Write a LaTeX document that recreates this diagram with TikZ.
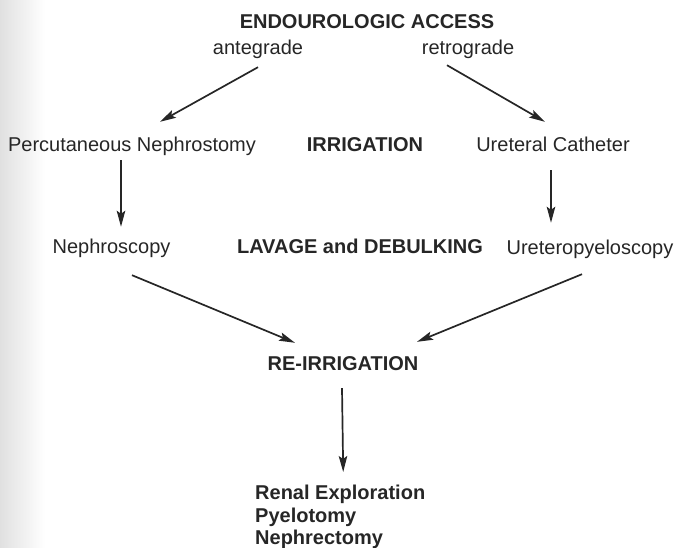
\documentclass[tikz,border=0pt]{standalone}
\usepackage{fontspec}
\setmainfont{Liberation Sans}
\usetikzlibrary{arrows.meta}
\definecolor{inkgray}{RGB}{38,38,38}

\begin{document}
\begin{tikzpicture}[
  x=1pt, y=-1pt,
  every node/.style={font=\fontsize{20}{22.5}\selectfont, text=inkgray, inner sep=0pt},
  plain/.style={text height=14pt, text depth=4pt},
  head/.style={plain, font=\fontsize{20}{22.5}\selectfont\bfseries},
  arr/.style={-{Stealth[length=16pt, width=8.5pt, inset=3pt]}, line width=1.7pt, draw=inkgray},
]

% Page frame (pixels of the original)
\useasboundingbox (0,0) rectangle (675,548);

% Scan shadow at the left edge
\shade[left color=black!12, right color=white] (0,0) rectangle (45,548);

% Access routes
\node[head]  (access) at (367,24) {ENDOUROLOGIC ACCESS};
\node[plain] (ante)   at (258,50) {antegrade};
\node[plain] (retro)  at (468,50) {retrograde};

% First step
\node[plain] (percut)   at (132,147) {Percutaneous Nephrostomy};
\node[head]  (irrig)    at (365,147) {IRRIGATION};
\node[plain] (uretcath) at (553,147) {Ureteral Catheter};

% Second step
\node[plain] (nephro)    at (111.5,249) {Nephroscopy};
\node[head]  (lavage)    at (360,249)   {LAVAGE and DEBULKING};
\node[plain] (ureteropy) at (590,250)   {Ureteropyeloscopy};

% Re-irrigation and open surgery
\node[head] (reirrig) at (343,365) {RE-IRRIGATION};
\node[font=\fontsize{20}{22.5}\selectfont\bfseries, align=left, anchor=north west]
  (surgery) at (255,485) {Renal Exploration\\Pyelotomy\\Nephrectomy};

% Arrows
\draw[arr] ([yshift=-8pt]ante.south) -- ([xshift=28pt, yshift=16pt]percut.north);
\draw[arr] ([xshift=-21pt, yshift=-6pt]retro.south) -- ([xshift=-8pt, yshift=16pt]uretcath.north);

\draw[arr] ([xshift=-11pt, yshift=-4pt]percut.south) -- ([xshift=9.5pt, yshift=13pt]nephro.north);
\draw[arr] ([xshift=-2pt, yshift=-14pt]uretcath.south) -- ([xshift=-39pt, yshift=18pt]ureteropy.north);

\draw[arr] ([xshift=20.5pt, yshift=-17pt]nephro.south) -- ([xshift=-48pt, yshift=13pt]reirrig.north);
\draw[arr] ([xshift=-8pt, yshift=-15pt]ureteropy.south) -- ([xshift=74pt, yshift=14pt]reirrig.north);

\draw[arr] ([xshift=-1pt, yshift=-14pt]reirrig.south) -- ([xshift=3pt, yshift=13pt]surgery.north);

\end{tikzpicture}
\end{document}
